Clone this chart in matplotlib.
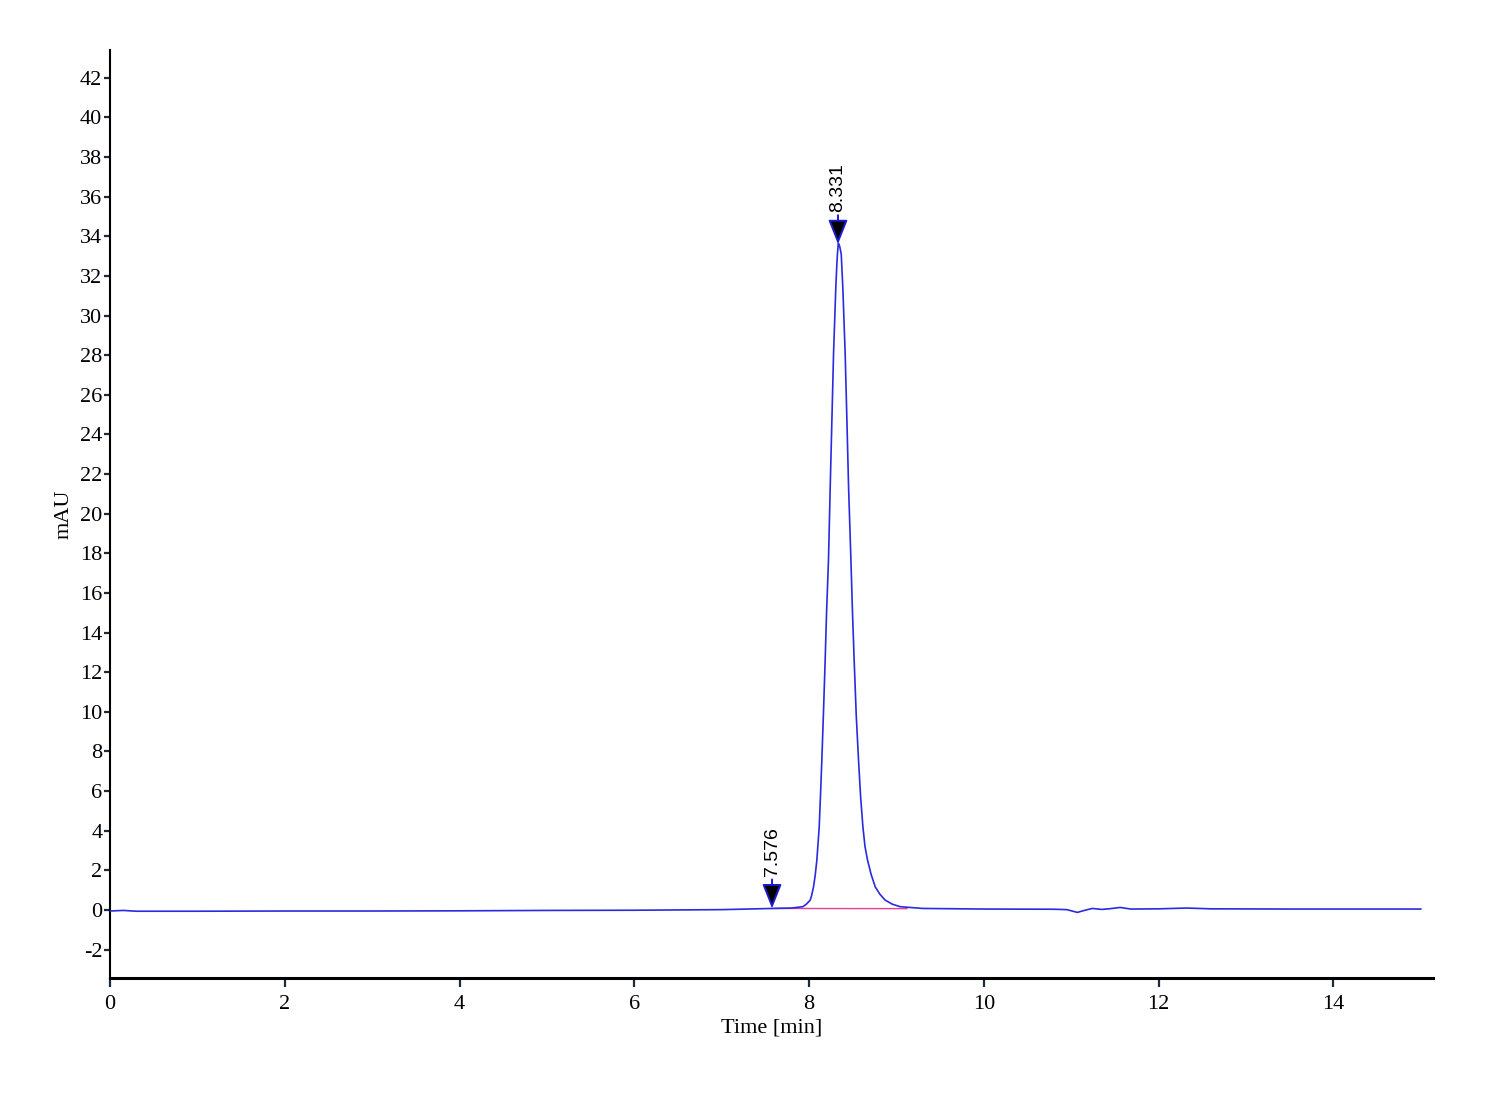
import matplotlib
matplotlib.use("Agg")
import matplotlib.pyplot as plt

plt.rcParams["axes.unicode_minus"] = False

# chromatogram trace (time in min, signal in mAU)
time_min = [0.00, 0.15, 0.30, 1.0, 2.0, 3.0, 4.0, 5.0, 6.0, 7.0, 7.3, 7.576, 7.8,
            7.93, 7.97, 8.013, 8.03, 8.051, 8.07, 8.089, 8.10, 8.116, 8.13, 8.146,
            8.165, 8.184, 8.20, 8.222, 8.242, 8.261, 8.280, 8.306, 8.318, 8.326,
            8.335, 8.350, 8.368, 8.386, 8.413, 8.433, 8.452, 8.479, 8.497, 8.516,
            8.540, 8.566, 8.590, 8.616, 8.640, 8.669, 8.710, 8.757, 8.810, 8.871,
            8.950, 9.040, 9.30, 10.0, 10.8, 10.95, 11.07, 11.15, 11.24, 11.35,
            11.45, 11.56, 11.68, 12.0, 12.32, 12.6, 13.5, 15.0]
signal_mau = [-0.05, -0.02, -0.06, -0.06, -0.05, -0.05, -0.04, -0.02, -0.01, 0.02,
              0.05, 0.08, 0.10, 0.17, 0.30, 0.50, 0.75, 1.17, 1.75, 2.52, 3.2,
              4.20, 5.7, 7.56, 10.0, 12.6, 15.0, 17.65, 21.35, 24.7, 28.07, 31.43,
              32.6, 33.2, 33.65, 33.5, 33.1, 31.43, 28.07, 24.7, 21.35, 17.65,
              15.0, 12.6, 9.8, 7.56, 5.7, 4.20, 3.2, 2.52, 1.80, 1.17, 0.80,
              0.50, 0.30, 0.17, 0.08, 0.05, 0.04, 0.02, -0.12, -0.02, 0.08, 0.03,
              0.07, 0.13, 0.05, 0.06, 0.10, 0.06, 0.05, 0.05]

# integration baseline
baseline_t = [7.576, 9.12]
baseline_y = [0.08, 0.07]

# peak labels
peak_t = [7.576, 8.331]
peak_h = [0.08, 33.6]
peak_labels = ["7.576", "8.331"]

x_ticks = list(range(0, 15, 2))
y_ticks = list(range(-2, 43, 2))

fig = plt.figure(figsize=(15, 11), dpi=100)
ax = fig.add_axes([110 / 1500, 122 / 1100, 1323 / 1500, 928 / 1100])

ax.plot(baseline_t, baseline_y, color="#e0409a", lw=1.0, zorder=2)
ax.plot(time_min, signal_mau, color="#2a2ae0", lw=1.2, zorder=3)

for t, h, lab in zip(peak_t, peak_h, peak_labels):
    ax.annotate("", xy=(t, h), xycoords="data",
                xytext=(0, 29), textcoords="offset pixels",
                arrowprops=dict(arrowstyle="-|>,head_length=1.5,head_width=0.6",
                                fc="black", ec="#1a1ad0", lw=1.4,
                                shrinkA=0, shrinkB=0, mutation_scale=10),
                zorder=4)
    ax.annotate(lab, xy=(t, h), xycoords="data",
                xytext=(0, 32), textcoords="offset pixels",
                rotation=90, ha="center", va="bottom",
                fontsize=14, family="Liberation Sans", color="black")

ax.set_xlim(0, 15.14)
ax.set_ylim(-3.43, 43.4)
ax.set_xticks(x_ticks)
ax.set_yticks(y_ticks)

for side in ["top", "right"]:
    ax.spines[side].set_visible(False)
ax.spines["left"].set_linewidth(1.5)
ax.spines["bottom"].set_linewidth(2.2)

ax.tick_params(axis="y", direction="out", length=4.5, width=1.6,
               color="#1a2b3c", pad=1, labelsize=16)
ax.tick_params(axis="x", direction="out", length=6.5, width=1.6,
               color="#1a2b3c", pad=6, labelsize=16)
for lbl in ax.get_xticklabels() + ax.get_yticklabels():
    lbl.set_family("Liberation Serif")

ax.set_xlabel("Time [min]", family="Liberation Serif", fontsize=16, labelpad=3)
ax.set_ylabel("mAU", family="Liberation Serif", fontsize=16, labelpad=5)

fig.savefig("out.png", dpi=100)
